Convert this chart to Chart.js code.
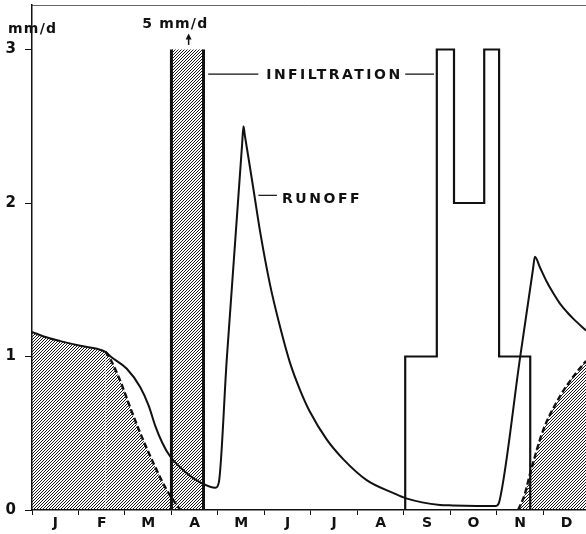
<!DOCTYPE html>
<html>
<head>
<meta charset="utf-8">
<script src="https://cdn.jsdelivr.net/npm/chart.js@4.4.1/dist/chart.umd.min.js"></script>
<style>
html, body { margin: 0; padding: 0; background: #fff; }
#wrap { width: 586px; height: 534px; }
</style>
</head>
<body>
<div id="wrap"><canvas id="myChart" width="586" height="534"></canvas></div>
<script>
// months on x (0 = start of Jan), mm/d on y
const monthLabels = ['J', 'F', 'M', 'A', 'M', 'J', 'J', 'A', 'S', 'O', 'N', 'D'];
const yTicks = [0, 1, 2, 3];

// runoff
const runoffX = [0, 0.25, 0.61, 1.04, 1.40, 1.58, 1.69, 2.04, 2.33, 2.51, 2.65, 2.80, 2.97, 3.33, 3.62, 3.95, 4.02, 4.19,
  4.52, 4.55, 4.58, 4.66, 4.77, 4.91, 5.12, 5.34, 5.55, 5.77, 5.98, 6.34, 6.70, 7.20, 7.78, 8.05, 8.78, 9.05, 9.98, 10.06,
  10.50, 10.78, 10.82, 10.93, 11.07, 11.22, 11.36, 11.51, 11.65, 11.92];
const runoffY = [1.16, 1.13, 1.10, 1.07, 1.05, 1.03, 1.00, 0.92, 0.80, 0.68, 0.55, 0.44, 0.35, 0.24, 0.18, 0.145, 0.18, 0.98,
  2.38, 2.50, 2.44, 2.29, 2.08, 1.81, 1.47, 1.19, 0.96, 0.78, 0.64, 0.46, 0.33, 0.195, 0.11, 0.076, 0.033, 0.03, 0.026, 0.06,
  0.99, 1.57, 1.65, 1.58, 1.49, 1.41, 1.345, 1.29, 1.245, 1.17];

// hatched areas (solid top, dashed edge)
const hatchSpringX = [0, 0.25, 0.61, 1.04, 1.40, 1.58, 1.86, 2.11, 2.33, 2.62, 2.90, 3.19];
const hatchSpringY = [1.16, 1.13, 1.10, 1.07, 1.05, 1.03, 0.87, 0.67, 0.50, 0.30, 0.13, 0];
const hatchAutumnX = [10.46, 10.60, 10.72, 11.00, 11.36, 11.65, 11.92];
const hatchAutumnY = [0, 0.10, 0.24, 0.52, 0.74, 0.87, 0.97];

// infiltration (april block is 5 mm/d, drawn cut at 3)
const infilSpringX = [3.0, 3.0, 3.69, 3.69];
const infilSpringY = [0, 3, 3, 0];
const infilAutumnX = [8.03, 8.03, 8.71, 8.71, 9.08, 9.08, 9.73, 9.73, 10.05, 10.05, 10.72, 10.72];
const infilAutumnY = [0, 1, 1, 3, 3, 2, 2, 3, 3, 1, 1, 0];

function pts(xs, ys) {
  return xs.map((v, i) => ({ x: v, y: ys[i] }));
}

var ctx = document.getElementById('myChart').getContext('2d');

// diagonal hatch, transparent gaps
function makeHatch() {
  var c = document.createElement('canvas');
  c.width = 3; c.height = 3;
  var g = c.getContext('2d');
  var img = g.createImageData(3, 3);
  for (var y = 0; y < 3; y++) {
    for (var x = 0; x < 3; x++) {
      var i = (y * 3 + x) * 4;
      if ((x + y) % 3 === 2) {
        img.data[i] = img.data[i + 1] = img.data[i + 2] = 25;
        img.data[i + 3] = 255;
      }
    }
  }
  g.putImageData(img, 0, 0);
  return ctx.createPattern(c, 'repeat');
}
const hatch = makeHatch();
const FONT = '"DejaVu Sans", sans-serif';

// text stretched between two x pixels
function spaced(c, str, x0, x1, base, size) {
  c.font = 'bold ' + size + 'px ' + FONT;
  c.letterSpacing = '0px';
  var w = c.measureText(str).width;
  var ls = (x1 - x0 - w) / (str.length - 1);
  c.letterSpacing = ls + 'px';
  c.textAlign = 'left';
  c.textBaseline = 'alphabetic';
  c.fillText(str, x0, base);
  c.letterSpacing = '0px';
}

// no label padding around the plot box
function noPad(s) {
  s.paddingTop = 0; s.paddingBottom = 0; s.paddingLeft = 0; s.paddingRight = 0;
}

const notes = {
  id: 'notes',
  afterDatasetsDraw(chart) {
    var c = chart.ctx, x = chart.scales.x, y = chart.scales.y;
    c.save();
    c.fillStyle = '#111';
    c.strokeStyle = '#111';

    spaced(c, 'mm/d', chart.chartArea.left - 24, chart.chartArea.left + 24, y.getPixelForValue(3.105), 14);
    spaced(c, '5 mm/d', x.getPixelForValue(2.37), x.getPixelForValue(3.77), y.getPixelForValue(3.138), 14);

    // arrow
    var ax = x.getPixelForValue(3.37);
    c.lineWidth = 1.5;
    c.beginPath();
    c.moveTo(ax, y.getPixelForValue(3.03));
    c.lineTo(ax, y.getPixelForValue(3.08));
    c.stroke();
    var tip = y.getPixelForValue(3.105);
    c.beginPath();
    c.moveTo(ax, tip);
    c.lineTo(ax - 3, tip + 6);
    c.lineTo(ax + 3, tip + 6);
    c.closePath();
    c.fill();

    // INFILTRATION
    c.lineWidth = 1.2;
    var iy = y.getPixelForValue(2.84);
    c.beginPath();
    c.moveTo(x.getPixelForValue(3.79), iy);
    c.lineTo(x.getPixelForValue(4.87), iy);
    c.moveTo(x.getPixelForValue(8.03), iy);
    c.lineTo(x.getPixelForValue(8.65), iy);
    c.stroke();
    spaced(c, 'INFILTRATION', x.getPixelForValue(5.04), x.getPixelForValue(7.92), y.getPixelForValue(2.81), 14);

    // RUNOFF
    var ry = y.getPixelForValue(2.05);
    c.beginPath();
    c.moveTo(x.getPixelForValue(4.87), ry);
    c.lineTo(x.getPixelForValue(5.27), ry);
    c.stroke();
    spaced(c, 'RUNOFF', x.getPixelForValue(5.38), x.getPixelForValue(7.05), y.getPixelForValue(2.0), 14);
    c.restore();
  }
};

var chart = new Chart(ctx, {
  type: 'line',
  data: {
    datasets: [
      {
        label: 'Runoff',
        data: pts(runoffX, runoffY),
        borderColor: '#111',
        borderWidth: 2,
        pointRadius: 0,
        cubicInterpolationMode: 'monotone',
        fill: false,
        order: 1
      },
      {
        label: 'Infiltration autumn',
        data: pts(infilAutumnX, infilAutumnY),
        borderColor: '#111',
        borderWidth: 2.2,
        pointRadius: 0,
        tension: 0,
        fill: false,
        order: 1
      },
      {
        label: 'Infiltration spring',
        data: pts(infilSpringX, infilSpringY),
        borderColor: '#111',
        borderWidth: 3,
        pointRadius: 0,
        tension: 0,
        fill: 'origin',
        backgroundColor: hatch,
        segment: {
          borderColor: c => (c.p0.parsed.y === 3 && c.p1.parsed.y === 3) ? 'rgba(0,0,0,0)' : '#111'
        },
        order: 2
      },
      {
        label: 'Hatch spring',
        data: pts(hatchSpringX, hatchSpringY),
        borderColor: '#111',
        borderWidth: 2.4,
        pointRadius: 0,
        cubicInterpolationMode: 'monotone',
        fill: 'origin',
        backgroundColor: hatch,
        segment: {
          borderColor: c => c.p0.parsed.x >= 1.58 ? '#111' : 'rgba(0,0,0,0)',
          borderDash: c => c.p0.parsed.x >= 1.58 ? [6, 3] : undefined
        },
        order: 3
      },
      {
        label: 'Hatch autumn',
        data: pts(hatchAutumnX, hatchAutumnY),
        borderColor: '#111',
        borderWidth: 2.4,
        borderDash: [6, 3],
        pointRadius: 0,
        cubicInterpolationMode: 'monotone',
        fill: 'origin',
        backgroundColor: hatch,
        order: 3
      }
    ]
  },
  options: {
    responsive: false,
    animation: false,
    devicePixelRatio: 1,
    events: [],
    layout: { autoPadding: false, padding: { top: 5, right: 0, left: 0, bottom: 0 } },
    plugins: { legend: { display: false }, tooltip: { enabled: false } },
    scales: {
      x: {
        type: 'linear',
        min: 0,
        max: 11.92,
        afterBuildTicks: s => { s.ticks = monthLabels.map((m, i) => ({ value: i })); },
        afterFit: s => { s.height = 24; noPad(s); },
        border: { display: true, color: '#111', width: 1.5 },
        grid: { drawOnChartArea: false, drawTicks: true, tickLength: 5, color: '#111', lineWidth: 1 },
        ticks: {
          autoSkip: false,
          maxRotation: 0,
          padding: 0,
          labelOffset: 23.25,
          color: '#111',
          font: { family: FONT, size: 14, weight: 'bold' },
          callback: v => monthLabels[v]
        }
      },
      x2: {
        type: 'linear',
        position: 'top',
        min: 0,
        max: 11.92,
        afterFit: s => { s.height = 0; noPad(s); },
        border: { display: true, color: '#666', width: 1 },
        grid: { display: false },
        ticks: { display: false }
      },
      y: {
        min: 0,
        max: 3.29,
        afterBuildTicks: s => { s.ticks = yTicks.map(v => ({ value: v })); },
        afterFit: s => { s.width = 32; noPad(s); },
        border: { display: true, color: '#111', width: 1.5 },
        grid: { drawOnChartArea: false, drawTicks: true, tickLength: 7, color: '#111', lineWidth: 1 },
        ticks: {
          padding: 9,
          color: '#111',
          font: { family: FONT, size: 15, weight: 'bold' }
        }
      }
    }
  },
  plugins: [notes]
});
</script>
</body>
</html>
